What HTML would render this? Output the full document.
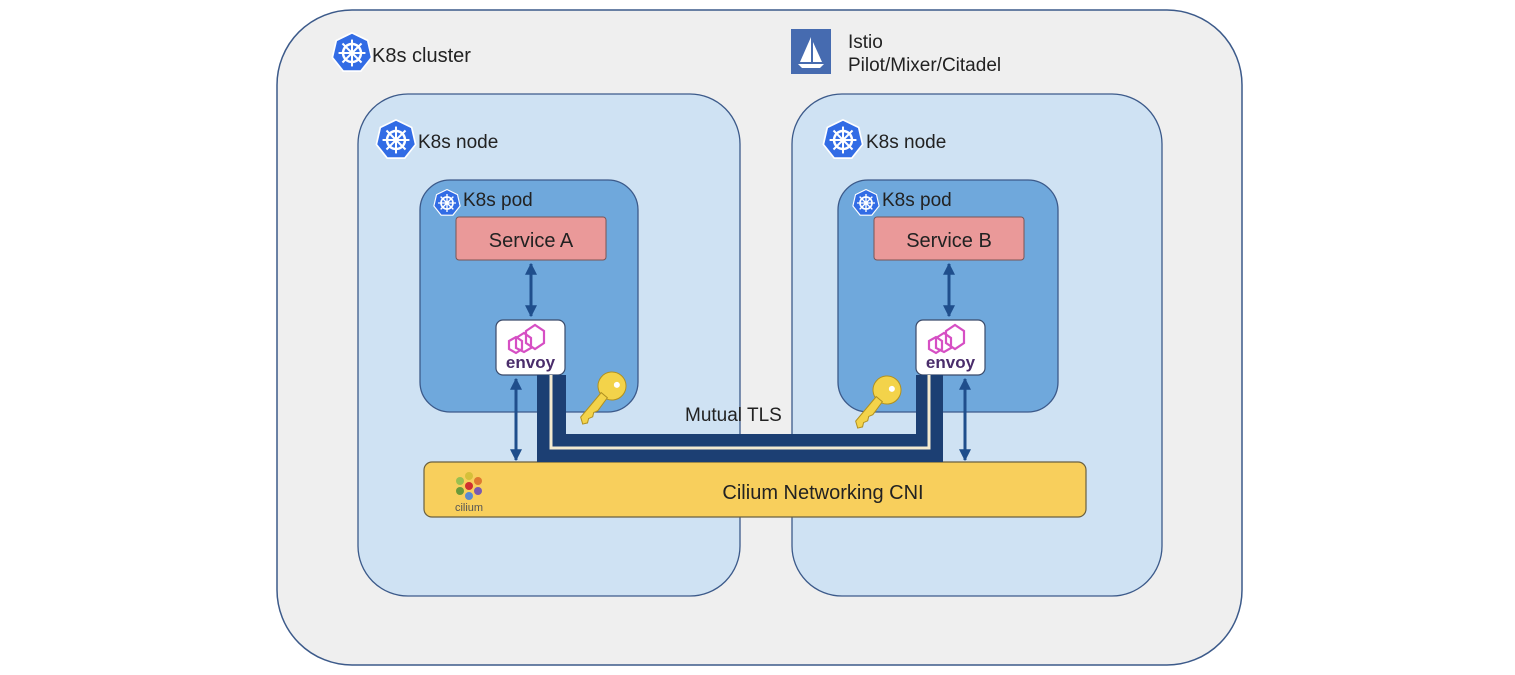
<!DOCTYPE html>
<html><head><meta charset="utf-8"><style>
html,body{margin:0;padding:0;background:#fff;}
svg{display:block;font-family:"Liberation Sans",sans-serif;}
</style></head><body>
<svg width="1515" height="675" viewBox="0 0 1515 675" xmlns="http://www.w3.org/2000/svg">
<defs>
<g id="k8s">
<polygon points="0,-18 14,-11.2 17.5,4 7.8,16.2 -7.8,16.2 -17.5,4 -14,-11.2" fill="#326ce5" stroke="#fff" stroke-width="1.5"/>
<circle r="8" fill="none" stroke="#fff" stroke-width="2.2"/>
<circle r="2.5" fill="#fff"/>
<g stroke="#fff" stroke-width="1.8">
<line x1="0" y1="-12" x2="0" y2="12"/><line x1="-12" y1="0" x2="12" y2="0"/>
<line x1="-8.5" y1="-8.5" x2="8.5" y2="8.5"/><line x1="-8.5" y1="8.5" x2="8.5" y2="-8.5"/>
</g>
</g>
<marker id="ah" viewBox="0 0 10 10" refX="9" refY="5" markerWidth="4" markerHeight="4" orient="auto-start-reverse">
<path d="M0,0 L10,5 L0,10 z" fill="#1f4e8c"/>
</marker>
<g id="envoy">
<rect x="0" y="0" width="69" height="55" rx="7" fill="#fff" stroke="#3a4a6a" stroke-width="1.2"/>
<g fill="none" stroke="#d64fc4" stroke-width="2.2">
<polygon points="13,21 20,17 26,21 26,29 20,33 13,29"/>
<polygon points="20,18 28,13 35,18 35,28 28,32 20,28"/>
<polygon points="30,11 39,5 48,11 48,23 39,29 30,23"/>
</g>
<text x="34.5" y="48" font-size="17" fill="#4a2d6b" text-anchor="middle" font-weight="bold">envoy</text>
</g>
</defs>

<rect x="277" y="10" width="965" height="655" rx="75" fill="#efefef" stroke="#3c5a8a" stroke-width="1.5"/>
<use href="#k8s" transform="translate(352,53) scale(1.12)"/>
<text x="372" y="62" font-size="20" fill="#222">K8s cluster</text>

<rect x="791" y="29" width="40" height="45" fill="#466bb0"/>
<polygon points="811,37 811,62 800,62" fill="#fff"/>
<polygon points="813,42 813,62 822,62" fill="#fff"/>
<path d="M798,64 L824,64 L820,68 L802,68 z" fill="#fff"/>
<text x="848" y="48" font-size="19" fill="#222">Istio</text>
<text x="848" y="71" font-size="19" fill="#222">Pilot/Mixer/Citadel</text>

<rect x="358" y="94" width="382" height="502" rx="50" fill="#cfe2f3" stroke="#3c5a8a" stroke-width="1.3"/>
<rect x="792" y="94" width="370" height="502" rx="50" fill="#cfe2f3" stroke="#3c5a8a" stroke-width="1.3"/>
<use href="#k8s" transform="translate(396,140) scale(1.12)"/>
<text x="418" y="148" font-size="19" fill="#222">K8s node</text>
<use href="#k8s" transform="translate(843,140) scale(1.12)"/>
<text x="866" y="148" font-size="19" fill="#222">K8s node</text>

<rect x="420" y="180" width="218" height="232" rx="30" fill="#6fa8dc" stroke="#3c5a8a" stroke-width="1.3"/>
<rect x="838" y="180" width="220" height="232" rx="30" fill="#6fa8dc" stroke="#3c5a8a" stroke-width="1.3"/>
<use href="#k8s" transform="translate(447,203) scale(0.75)"/>
<text x="463" y="206" font-size="19" fill="#222">K8s pod</text>
<use href="#k8s" transform="translate(866,203) scale(0.75)"/>
<text x="882" y="206" font-size="19" fill="#222">K8s pod</text>

<rect x="456" y="217" width="150" height="43" rx="3" fill="#ea9999" stroke="#7a5555" stroke-width="1"/>
<text x="531" y="247" font-size="20" fill="#222" text-anchor="middle">Service A</text>
<rect x="874" y="217" width="150" height="43" rx="3" fill="#ea9999" stroke="#7a5555" stroke-width="1"/>
<text x="949" y="247" font-size="20" fill="#222" text-anchor="middle">Service B</text>

<g stroke="#1f4e8c" stroke-width="3">
<line x1="531" y1="264" x2="531" y2="316" marker-start="url(#ah)" marker-end="url(#ah)"/>
<line x1="949" y1="264" x2="949" y2="316" marker-start="url(#ah)" marker-end="url(#ah)"/>
<line x1="516" y1="379" x2="516" y2="460" marker-start="url(#ah)" marker-end="url(#ah)"/>
<line x1="965" y1="379" x2="965" y2="460" marker-start="url(#ah)" marker-end="url(#ah)"/>
</g>

<use href="#envoy" x="496" y="320"/>
<use href="#envoy" x="916" y="320"/>

<rect x="424" y="462" width="662" height="55" rx="8" fill="#f8cf5c" stroke="#6a6040" stroke-width="1.2"/>
<text x="823" y="499" font-size="20" fill="#222" text-anchor="middle">Cilium Networking CNI</text>
<g>
<circle cx="469" cy="476" r="4" fill="#d5c03a"/><circle cx="478" cy="481" r="4" fill="#e07a30"/>
<circle cx="478" cy="491" r="4" fill="#7a5ab0"/><circle cx="469" cy="496" r="4" fill="#5a8ad0"/>
<circle cx="460" cy="491" r="4" fill="#6a9a3a"/><circle cx="460" cy="481" r="4" fill="#9ac050"/>
<circle cx="469" cy="486" r="4" fill="#d03030"/>
<text x="469" y="511" font-size="11" fill="#555" text-anchor="middle">cilium</text>
</g>

<path d="M537,375 L566,375 L566,434 L916,434 L916,375 L943,375 L943,462 L537,462 z" fill="#1c3f73"/>
<polyline points="551,375 551,448 929,448 929,375" fill="none" stroke="#f3ead0" stroke-width="3"/>

<text x="685" y="421" font-size="19" fill="#222">Mutual TLS</text>

<g transform="translate(612,386) rotate(40)">
<circle cx="0" cy="0" r="14" fill="#f3d34a" stroke="#b09020" stroke-width="1"/>
<circle cx="3" cy="-4" r="3" fill="#fff"/>
<path d="M-4,12 L-4,44 L2,48 L5,44 L3,40 L5,36 L3,32 L5,28 L4,12 z" fill="#f3d34a" stroke="#b09020" stroke-width="1"/>
</g>
<g transform="translate(887,390) rotate(40)">
<circle cx="0" cy="0" r="14" fill="#f3d34a" stroke="#b09020" stroke-width="1"/>
<circle cx="3" cy="-4" r="3" fill="#fff"/>
<path d="M-4,12 L-4,44 L2,48 L5,44 L3,40 L5,36 L3,32 L5,28 L4,12 z" fill="#f3d34a" stroke="#b09020" stroke-width="1"/>
</g>
</svg>
</body></html>
